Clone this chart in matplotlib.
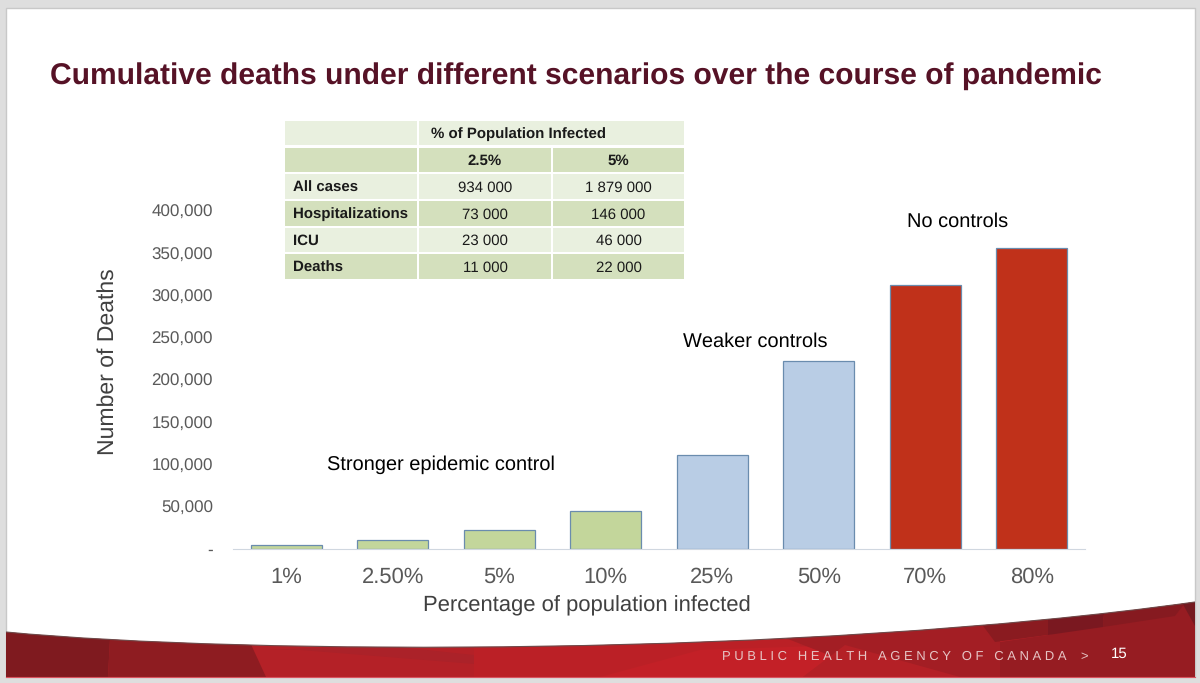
import matplotlib
matplotlib.use("Agg")
import matplotlib.pyplot as plt
from matplotlib.patches import PathPatch, Polygon, Rectangle
from matplotlib.path import Path

plt.rcParams["font.family"] = ["Liberation Sans", "DejaVu Sans"]
plt.rcParams["text.hinting"] = "no_hinting"
plt.rcParams["text.hinting_factor"] = 1

W, H = 1200, 683

# chart data
categories = ["1%", "2.50%", "5%", "10%", "25%", "50%", "70%", "80%"]
deaths = [4400, 11000, 22000, 45000, 111000, 222000, 312000, 356000]
scenario_colors = ["#c3d69b"] * 4 + ["#b9cde5"] * 2 + ["#c0311a"] * 2
y_ticks = [0, 50000, 100000, 150000, 200000, 250000, 300000, 350000, 400000]

# table data
row_names = ["All cases", "Hospitalizations", "ICU", "Deaths"]
col_names = ["2.5%", "5%"]
col_25 = ["934 000", "73 000", "23 000", "11 000"]
col_5 = ["1 879 000", "146 000", "46 000", "22 000"]

fig = plt.figure(figsize=(W / 100, H / 100), dpi=100, facecolor="#dedede")

# whole slide in pixel coordinates, y going down
bg = fig.add_axes([0, 0, 1, 1])
bg.set_xlim(0, W)
bg.set_ylim(H, 0)
bg.axis("off")
bg.add_patch(Rectangle((5.5, 7.5), 1189.5, 669.5, fc="white", ec="#c8c8c8", lw=1))

# red footer band
band = Path(
    [(6, 632), (250, 655), (800, 657), (1195, 602), (1195, 677), (6, 677), (6, 632)],
    [Path.MOVETO, Path.CURVE4, Path.CURVE4, Path.CURVE4, Path.LINETO, Path.LINETO, Path.CLOSEPOLY],
)
bg.add_patch(PathPatch(band, fc="#b42127", ec="none"))
facets = [
    ([(6, 620), (111, 620), (108, 677), (6, 677)], "#7f1a1f"),
    ([(111, 620), (249, 640), (266, 677), (108, 677)], "#8e1c21"),
    ([(266, 650), (380, 645), (474, 655), (474, 664), (300, 650)], "#ab2229"),
    ([(474, 640), (800, 640), (803, 677), (474, 677)], "#bb2026"),
    ([(600, 677), (700, 650), (845, 645), (803, 677)], "#c32027"),
    ([(765, 630), (1000, 610), (1000, 677), (885, 677)], "#a31e24"),
    ([(845, 645), (960, 677), (803, 677)], "#b42026"),
    ([(975, 615), (1050, 610), (1048, 635), (995, 642)], "#8a1b20"),
    ([(1000, 642), (1048, 635), (1195, 595), (1195, 677), (1000, 677)], "#961c22"),
    ([(1048, 610), (1105, 600), (1103, 627), (1048, 635)], "#7a1820"),
    ([(1105, 600), (1195, 590), (1175, 616), (1103, 627)], "#861a20"),
    ([(1175, 590), (1195, 590), (1195, 626)], "#741a20"),
]
for pts, col in facets:
    poly = Polygon(pts, fc=col, ec="none")
    bg.add_patch(poly)
    poly.set_clip_path(PathPatch(band, transform=bg.transData))
bg.add_patch(PathPatch(Path([(6, 632), (250, 655), (800, 657), (1195, 602)],
                            [Path.MOVETO, Path.CURVE4, Path.CURVE4, Path.CURVE4]),
                       fc="none", ec="#6e4a4a", lw=0.8))
bg.plot([6, 1195], [677, 677], color="#d9535f", lw=0.8)

bg.text(50, 84, "Cumulative deaths under different scenarios over the course of pandemic",
        fontsize=21.75, fontweight="bold", color="#561226", va="baseline", ha="left")
bg.text(722, 657, "P U B L I C   H E A L T H   A G E N C Y   O F   C A N A D A    >",
        fontsize=9, color="#e6c4c4", va="center", ha="left")
bg.text(1111, 654, "15", fontsize=11, color="white", va="center", ha="left")

# bar chart, pixel box taken from the slide
left, right, top, bottom = 233, 1085, 211, 549
ax = fig.add_axes([left / W, 1 - bottom / H, (right - left) / W, (bottom - top) / H])
ax.patch.set_alpha(0)
x = list(range(len(categories)))
ax.bar(x, deaths, width=0.667, color=scenario_colors, edgecolor="#6a8cae", linewidth=0.9)
ax.set_xlim(-0.5, 7.5)
ax.set_ylim(0, 400000)
ax.set_xticks(x)
ax.set_xticklabels(categories, fontsize=16, color="#595959")
ax.set_yticks(y_ticks)
ax.set_yticklabels(["-" if v == 0 else f"{v:,}" for v in y_ticks], fontsize=12.6, color="#595959")
ax.tick_params(length=0)
ax.tick_params(axis="x", pad=13)
ax.tick_params(axis="y", pad=14.5)
for side in ["top", "right", "left"]:
    ax.spines[side].set_visible(False)
ax.spines["bottom"].set_color("#d0d7e0")
ax.set_xlabel("Percentage of population infected", fontsize=15.8, color="#404040", va="center")
ax.xaxis.set_label_coords((587 - left) / (right - left), -(606 - bottom) / (bottom - top), transform=ax.transAxes)
ax.set_ylabel("Number of Deaths", fontsize=16.3, color="#404040", va="center")
ax.yaxis.set_label_coords((108 - left) / (right - left), (bottom - 362) / (bottom - top), transform=ax.transAxes)

bg.text(441, 465, "Stronger epidemic control", fontsize=14.1, color="black", ha="center", va="center")
bg.text(755, 342, "Weaker controls", fontsize=14.1, color="black", ha="center", va="center")
bg.text(958, 222, "No controls", fontsize=14.1, color="black", ha="center", va="center")

# inset table, drawn on the slide axes above the chart
col_edges = [(285, 417), (419, 551), (553, 684)]
row_edges = [(121, 145), (148, 172), (174, 199), (201, 226), (228, 252), (254, 279)]
table_rows = [["", "", ""], ["", *col_names]]
table_rows += [[n, a, b] for n, a, b in zip(row_names, col_25, col_5)]
tax = fig.add_axes([0, 0, 1, 1])
tax.set_xlim(0, W)
tax.set_ylim(H, 0)
tax.axis("off")
for r, (y0, y1) in enumerate(row_edges):
    shade = "#d4e0bd" if r in (1, 3, 5) else "#e9f0df"
    for c, (x0, x1) in enumerate(col_edges):
        tax.add_patch(Rectangle((x0, y0), x1 - x0, y1 - y0, fc=shade, ec="none"))
        label = table_rows[r][c]
        if c == 0:
            tax.text(x0 + 8, (y0 + y1) / 2 + 1, label, fontsize=11, fontweight="bold",
                     color="#1a1a1a", ha="left", va="center")
        else:
            tax.text((x0 + x1) / 2, (y0 + y1) / 2 + 1, label, fontsize=11, color="#1a1a1a",
                     fontweight="bold" if r < 2 else "normal", ha="center", va="center")
tax.add_patch(Rectangle((550, 121), 4, 24, fc="#e9f0df", ec="none"))
tax.text(431, 134, "% of Population Infected", fontsize=11, fontweight="bold",
         color="#1a1a1a", ha="left", va="center")

fig.savefig("out.png", dpi=100, facecolor=fig.get_facecolor())
